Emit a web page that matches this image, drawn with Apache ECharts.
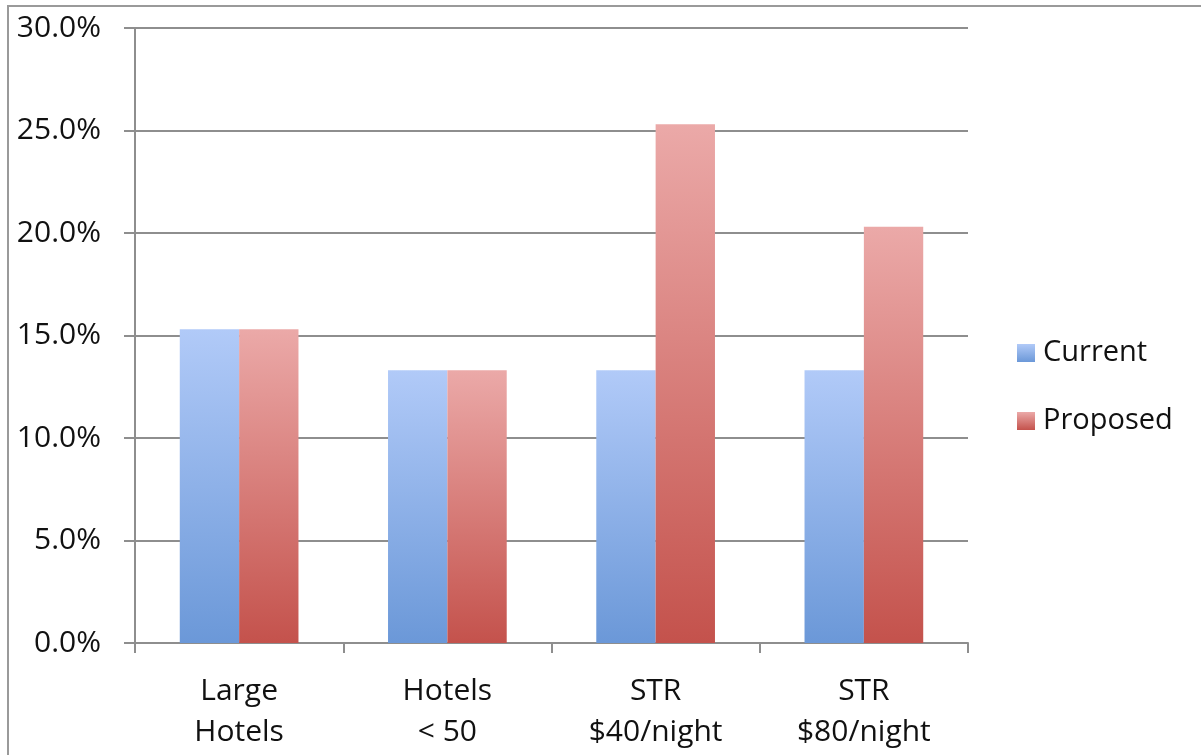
<!DOCTYPE html>
<html>
<head>
<meta charset="utf-8">
<script src="https://cdn.jsdelivr.net/npm/echarts@6/dist/echarts.min.js"></script>
<style>
	html, body { margin: 0; padding: 0; background: #fff; }
	#chart { width: 1201px; height: 755px; }
</style>
</head>
<body>
<div id="chart"></div>
<script>
// values in percent
var categories = ['Large\nHotels', 'Hotels\n< 50', 'STR\n$40/night', 'STR\n$80/night'];
var seriesNames = ['Current', 'Proposed'];
var current = [15.3, 13.3, 13.3, 13.3];
var proposed = [15.3, 13.3, 25.3, 20.3];
var yTicks = [0, 5, 10, 15, 20, 25, 30];

var fontFamily = '"Open Sans", "Noto Sans", sans-serif';
var gridColor = '#8e8e8e';

function grad(top, bottom) {
	return new echarts.graphic.LinearGradient(0, 0, 0, 1, [
		{ offset: 0, color: top },
		{ offset: 1, color: bottom }
	]);
}

var chart = echarts.init(document.getElementById('chart'));
chart.setOption({
	animation: false,
	backgroundColor: '#fff',
	textStyle: { fontFamily: fontFamily },
	graphic: [
		{
			// frame around the chart (cut off at right/bottom)
			type: 'rect',
			shape: { x: 8, y: 6, width: 1210, height: 770 },
			style: { fill: 'none', stroke: '#9a9a9a', lineWidth: 2 },
			silent: true
		}
	],
	grid: {
		left: 135,
		right: 233,
		top: 28,
		bottom: 112
	},
	legend: {
		orient: 'vertical',
		left: 1012,
		top: 332,
		itemWidth: 18,
		itemHeight: 18,
		itemGap: 36,
		icon: 'rect',
		data: seriesNames,
		textStyle: {
			fontFamily: fontFamily,
			fontSize: 29,
			color: '#111',
			lineHeight: 32,
			padding: [0, 0, 0, 3]
		}
	},
	xAxis: {
		type: 'category',
		data: categories,
		axisLine: { lineStyle: { color: gridColor, width: 2 } },
		axisTick: {
			show: true,
			length: 10,
			alignWithLabel: false,
			lineStyle: { color: gridColor, width: 2 }
		},
		axisLabel: {
			interval: 0,
			margin: 28,
			fontSize: 30,
			lineHeight: 41,
			color: '#111',
			fontFamily: fontFamily
		}
	},
	yAxis: {
		type: 'value',
		min: yTicks[0],
		max: yTicks[yTicks.length - 1],
		interval: 5,
		axisLine: { show: true, lineStyle: { color: gridColor, width: 2 } },
		axisTick: { show: true, length: 11, lineStyle: { color: gridColor, width: 2 } },
		splitLine: { show: true, lineStyle: { color: gridColor, width: 2 } },
		axisLabel: {
			margin: 34,
			fontSize: 30,
			color: '#111',
			fontFamily: fontFamily,
			formatter: function(v) {
				return v.toFixed(1) + '%';
			}
		}
	},
	series: [
		{
			name: seriesNames[0],
			type: 'bar',
			data: current,
			barGap: '0%',
			barCategoryGap: '43%',
			itemStyle: { color: grad('#b1caf8', '#6b98d8') }
		},
		{
			name: seriesNames[1],
			type: 'bar',
			data: proposed,
			barGap: '0%',
			barCategoryGap: '43%',
			itemStyle: { color: grad('#eba9a8', '#c4524c') }
		}
	]
});
</script>
</body>
</html>
